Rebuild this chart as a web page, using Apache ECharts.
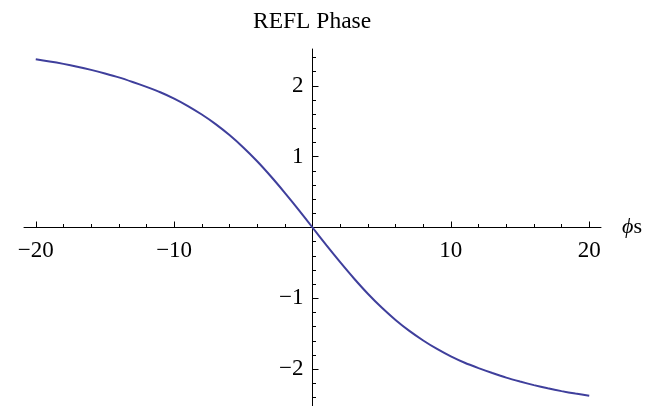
<!DOCTYPE html>
<html>
<head>
<meta charset="utf-8">
<script src="https://cdn.jsdelivr.net/npm/echarts@6/dist/echarts.min.js"></script>
<style>
  html, body { margin: 0; padding: 0; background: #ffffff; }
  #chart { width: 649px; height: 406px; }
</style>
</head>
<body>
<div id="chart"></div>
<script>
// Detuning values (x) and the reflected phase (y)
const phiS = [-20, -19, -18, -17, -16, -15, -14, -13, -12, -11, -10, -9, -8, -7, -6, -5, -4, -3, -2, -1,
  0, 1, 2, 3, 4, 5, 6, 7, 8, 9, 10, 11, 12, 13, 14, 15, 16, 17, 18, 19, 20];
const reflPhase = [2.375, 2.345, 2.31, 2.27, 2.225, 2.175, 2.12, 2.055, 1.985, 1.91, 1.82, 1.715, 1.595, 1.46, 1.305, 1.13, 0.935, 0.72, 0.49, 0.25,
  0, -0.25, -0.49, -0.72, -0.935, -1.13, -1.305, -1.46, -1.595, -1.715, -1.82, -1.91, -1.985, -2.055, -2.12, -2.175, -2.225, -2.27, -2.31, -2.345, -2.375];

// Tick positions
const xMajorTicks = [-20, -10, 10, 20];
const xMinorTicks = [-18, -16, -14, -12, -8, -6, -4, -2, 2, 4, 6, 8, 12, 14, 16, 18];
const yMajorTicks = [-2, -1, 1, 2];
const yMinorTicks = [-2.4, -2.2, -1.8, -1.6, -1.4, -1.2, -0.8, -0.6, -0.4, -0.2,
  0.2, 0.4, 0.6, 0.8, 1.2, 1.4, 1.6, 1.8, 2.2, 2.4];

const X_MIN = -20.85, X_MAX = 20.85;
const Y_MIN = -2.52, Y_MAX = 2.52;
const SERIF = '"Liberation Serif", "DejaVu Serif", serif';
const INK = '#000000';

// Plot frame; the axes are shifted from the frame edges so they cross at the origin
const GRID = { left: 24, right: 48, top: 49, bottom: 0 };
const W = 649, H = 406;
const plotW = W - GRID.left - GRID.right;
const plotH = H - GRID.top - GRID.bottom;
const xShift = -(plotH * (Y_MAX / (Y_MAX - Y_MIN)));   // move x axis up to y = 0
const yShift = -(plotW * ((0 - X_MIN) / (X_MAX - X_MIN))); // move y axis right to x = 0

const fmt = v => (v < 0 ? '\u2212' : '') + Math.abs(v);

const chart = echarts.init(document.getElementById('chart'), null, { renderer: 'canvas' });

chart.setOption({
  backgroundColor: '#ffffff',
  animation: false,
  title: {
    text: 'REFL Phase',
    left: 253,
    top: 10,
    padding: 0,
    textStyle: { fontFamily: SERIF, fontSize: 23.5, fontWeight: 'normal', color: INK }
  },
  grid: { left: GRID.left, right: GRID.right, top: GRID.top, bottom: GRID.bottom, containLabel: false, outerBoundsMode: 'none' },
  xAxis: [
    {
      type: 'value', min: X_MIN, max: X_MAX, position: 'bottom', offset: xShift,
      name: '{i|\u03D5}s', nameLocation: 'end', nameGap: 21,
      nameTextStyle: {
        fontFamily: SERIF, fontSize: 22, color: INK, verticalAlign: 'middle',
        rich: { i: { fontFamily: SERIF, fontSize: 22, fontStyle: 'italic', color: INK } }
      },
      axisLine: { show: true, onZero: false, lineStyle: { color: INK, width: 1 } },
      axisTick: { show: true, inside: true, length: 6, customValues: xMajorTicks, lineStyle: { color: INK, width: 1 } },
      axisLabel: { show: true, customValues: xMajorTicks, formatter: fmt, margin: 12,
        fontFamily: SERIF, fontSize: 23, color: INK },
      minorTick: { show: false },
      splitLine: { show: false }
    },
    {
      type: 'value', min: X_MIN, max: X_MAX, position: 'bottom', offset: xShift,
      axisLine: { show: false, onZero: false },
      axisTick: { show: true, inside: true, length: 3.5, customValues: xMinorTicks, lineStyle: { color: INK, width: 1 } },
      axisLabel: { show: false },
      splitLine: { show: false }
    }
  ],
  yAxis: [
    {
      type: 'value', min: Y_MIN, max: Y_MAX, position: 'left', offset: yShift,
      axisLine: { show: true, onZero: false, lineStyle: { color: INK, width: 1 } },
      axisTick: { show: true, inside: true, length: 6, customValues: yMajorTicks, lineStyle: { color: INK, width: 1 } },
      axisLabel: { show: true, customValues: yMajorTicks, formatter: fmt, margin: 9,
        fontFamily: SERIF, fontSize: 23, color: INK },
      minorTick: { show: false },
      splitLine: { show: false }
    },
    {
      type: 'value', min: Y_MIN, max: Y_MAX, position: 'left', offset: yShift,
      axisLine: { show: false, onZero: false },
      axisTick: { show: true, inside: true, length: 3.5, customValues: yMinorTicks, lineStyle: { color: INK, width: 1 } },
      axisLabel: { show: false },
      splitLine: { show: false }
    }
  ],
  series: [
    {
      type: 'line',
      xAxisIndex: 0,
      yAxisIndex: 0,
      data: phiS.map((x, i) => [x, reflPhase[i]]),
      showSymbol: false,
      smooth: 0.25,
      lineStyle: { color: '#3f3f9c', width: 2 },
      z: 5
    }
  ]
});
</script>
</body>
</html>
